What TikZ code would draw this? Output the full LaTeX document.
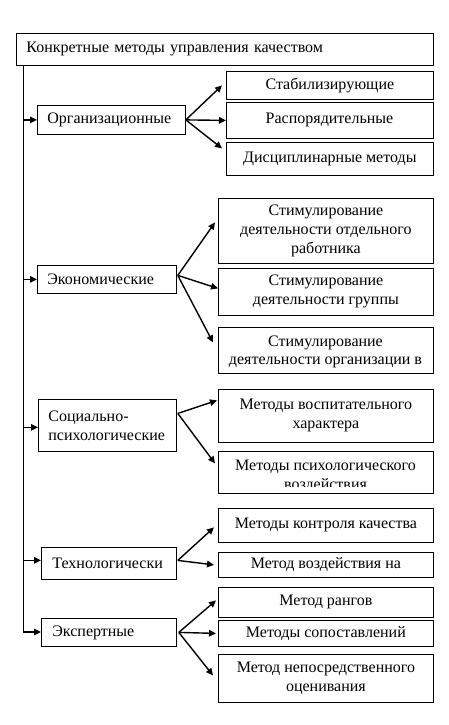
\documentclass[tikz,border=0pt]{standalone}
\usepackage{fontspec}
\setmainfont{Liberation Serif}
\usetikzlibrary{arrows.meta}
\begin{document}
\begin{tikzpicture}[x=1pt,y=-1pt,
  every node/.style={font=\fontsize{16}{19}\selectfont},
  box/.style={draw, line width=0.8pt, inner sep=0pt, anchor=north west, align=center},
  lbox/.style={draw, line width=0.8pt, inner ysep=0pt, inner xsep=#1, anchor=north west, align=left},
  txt/.style={inner sep=0pt, align=center},
  arr/.style={line width=1.4pt, -{Triangle[length=7pt,width=6.5pt]}},
  trunk/.style={line width=0.8pt}]
\useasboundingbox (0,0) rectangle (448,725);
% top
\node[lbox=10pt, minimum height=32pt, text width=397pt] (top) at (16,33) {Конкретные методы управления качеством};
% left column
\node[lbox=10pt, minimum height=29pt, text width=128pt] (org) at (37,105) {Организационные};
\node[lbox=10pt, minimum height=28pt, text width=119pt] (eco) at (37,265) {Экономические};
\node[lbox=10pt, minimum height=52pt, text width=118pt] (soc) at (38,399) {Социально-\\психологические};
\node[lbox=11pt, minimum height=32pt, text width=113pt] (tech) at (41,547) {Технологически};
\node[lbox=11pt, minimum height=28pt, text width=113pt] (ex) at (41,618) {Экспертные};
% right column
\node[box, minimum width=207pt, minimum height=28pt] (s1) at (226,71) {Стабилизирующие};
\node[box, minimum width=207pt, minimum height=36pt] (s2) at (226,102) {};
\node[txt, anchor=base] (s2t) at (329.5,123) {Распорядительные};
\node[box, minimum width=207pt, minimum height=33pt] (s3) at (226,142) {Дисциплинарные методы};
\node[box, minimum width=215pt, minimum height=65pt] (e1) at (218,198) {Стимулирование\\деятельности отдельного\\работника};
\node[box, minimum width=215pt, minimum height=47pt] (e2) at (218,268) {Стимулирование\\деятельности группы};
\node[box, minimum width=215pt, minimum height=46pt] (e3) at (218,327) {};
\node[txt, anchor=base, font=\fontsize{16}{17.5}\selectfont] (e3t) at (325.5,364) {Стимулирование\\деятельности организации в};
\node[box, minimum width=215pt, minimum height=53pt] (p1) at (218,389) {Методы воспитательного\\характера};
\node[box, minimum width=215pt, minimum height=42pt] (p2) at (218,451) {};
\begin{scope}
\clip (p2.north west) rectangle ([yshift=7pt]p2.south east);
\node[txt, anchor=base] (p2t) at (325.5,489) {Методы психологического\\воздействия};
\end{scope}
\node[box, minimum width=215pt, minimum height=34pt] (t1) at (218,508) {Методы контроля качества};
\node[box, minimum width=215pt, minimum height=25pt] (t2) at (218,552) {Метод воздействия на};
\node[box, minimum width=215pt, minimum height=30pt] (x1) at (218,587) {Метод рангов};
\node[box, minimum width=215pt, minimum height=26pt] (x2) at (218,620) {Методы сопоставлений};
\node[box, minimum width=215pt, minimum height=48pt] (x3) at (218,654) {Метод непосредственного\\оценивания};
% trunk
\coordinate (t0) at (23,65);
\coordinate (t5) at (23,632);
\draw[trunk] (t0) -- (t5);
\draw[arr] (t0 |- org.west) -- (org.west);
\draw[arr] (t0 |- eco.west) -- (eco.west);
\draw[arr] ([yshift=-2pt]t0 |- soc.west) -- ([yshift=-2pt]soc.west);
\draw[arr] ([yshift=3pt]t0 |- tech.west) -- ([yshift=3pt]tech.west);
\draw[arr] (t5) -- (t5 -| ex.west);
% branches
\draw[arr] (org.east) -- ([xshift=-4pt]s1.west);
\draw[arr] (org.east) -- (s2.west);
\draw[arr] (org.east) -- ([xshift=-4pt,yshift=10.5pt]s3.west);
\draw[arr] ([xshift=1pt,yshift=4pt]eco.east) -- ([xshift=-3pt,yshift=8.5pt]e1.west);
\draw[arr] ([xshift=1pt,yshift=4pt]eco.east) -- ([yshift=3.5pt]e2.west);
\draw[arr] ([xshift=1pt,yshift=4pt]eco.east) -- ([xshift=-5pt,yshift=8pt]e3.west);
\draw[arr] ([xshift=1pt,yshift=12pt]soc.east) -- ([xshift=-1pt,yshift=15.5pt]p1.west);
\draw[arr] ([xshift=1pt,yshift=12pt]soc.east) -- ([xshift=-3pt,yshift=9pt]p2.west);
\draw[arr] ([xshift=1pt,yshift=3pt]tech.east) -- ([xshift=-4pt,yshift=-2pt]t1.west);
\draw[arr] ([xshift=1pt,yshift=3pt]tech.east) -- ([xshift=-4pt]t2.west);
\draw[arr] ([xshift=2pt]ex.east) -- ([xshift=-2pt,yshift=2pt]x1.west);
\draw[arr] ([xshift=2pt]ex.east) -- ([xshift=-2pt]x2.west);
\draw[arr] ([xshift=2pt]ex.east) -- ([xshift=-5pt,yshift=3pt]x3.west);
\end{tikzpicture}
\end{document}
